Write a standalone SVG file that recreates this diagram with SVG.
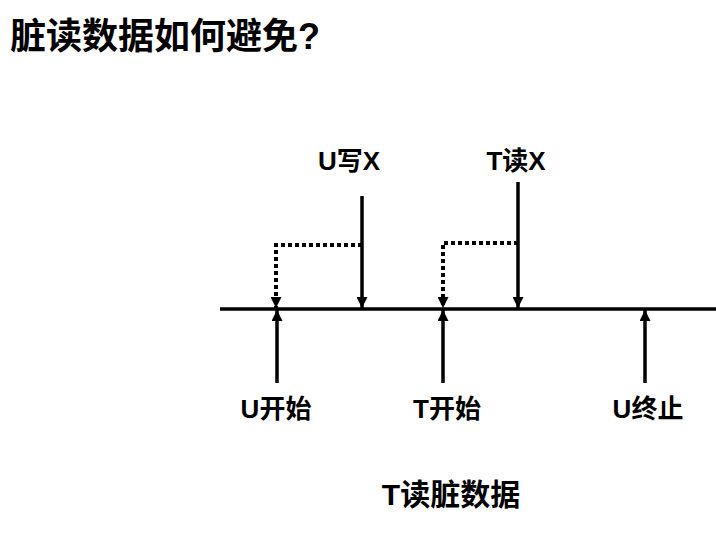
<svg xmlns="http://www.w3.org/2000/svg" width="716" height="534" viewBox="0 0 716 534">
<style>
text{font-family:"Liberation Sans","Noto Sans CJK SC",sans-serif;font-weight:bold;fill:#000}
.lbl{font-size:26px;text-anchor:middle}
.solid{stroke:#000;stroke-width:3.5;fill:none}
.dot{stroke:#000;stroke-width:4;fill:none;stroke-dasharray:4 3}
</style>
<defs>
<marker id="ah" viewBox="0 0 10 10" refX="10" refY="5" markerWidth="11" markerHeight="11" markerUnits="userSpaceOnUse" orient="auto">
<path d="M0,0 L10,5 L0,10 Z" fill="#000"/>
</marker>
</defs>
<rect width="716" height="534" fill="#fff"/>
<text x="10" y="49" style="font-size:36px">脏读数据如何避免?</text>
<g id="timeline"><line class="solid" x1="220" y1="309" x2="716" y2="309"/></g>
<g id="connectors">
<line class="solid" x1="277" y1="383" x2="277" y2="310" marker-end="url(#ah)"/>
<line class="solid" x1="443" y1="383" x2="443" y2="310" marker-end="url(#ah)"/>
<line class="solid" x1="645" y1="383" x2="645" y2="310" marker-end="url(#ah)"/>
<line class="solid" x1="362" y1="196" x2="362" y2="308" marker-end="url(#ah)"/>
<line class="solid" x1="518" y1="182" x2="518" y2="308" marker-end="url(#ah)"/>
<polyline class="dot" points="362,245 276,245 276,308" marker-end="url(#ah)"/>
<polyline class="dot" points="518,243 443,243 443,308" marker-end="url(#ah)"/>
</g>
<g id="uwrite"><text class="lbl" x="349" y="170">U写X</text></g>
<g id="tread"><text class="lbl" x="516" y="170">T读X</text></g>
<g id="ustart"><text class="lbl" x="276" y="418">U开始</text></g>
<g id="tstart"><text class="lbl" x="447" y="418">T开始</text></g>
<g id="uend"><text class="lbl" x="648" y="418">U终止</text></g>
<g id="caption"><text x="451" y="505" style="font-size:30px;text-anchor:middle">T读脏数据</text></g>
</svg>
